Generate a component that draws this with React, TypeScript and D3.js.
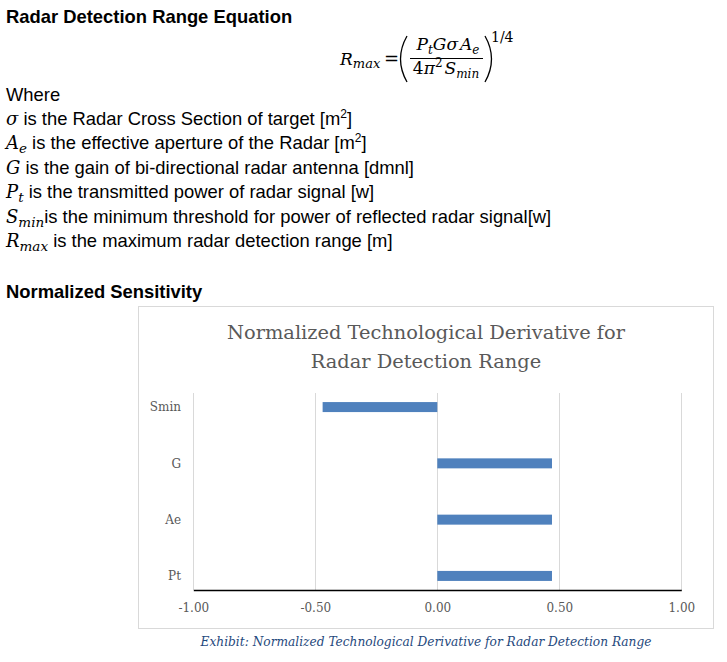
import React, { useRef, useEffect } from 'react';
import * as d3 from 'd3';

const categories = ['Pt', 'Ae', 'G', 'Smin'];
const derivatives = [0.47, 0.47, 0.47, -0.47];
const xTicks = [-1, -0.5, 0, 0.5, 1];

const chartTitle = ['Normalized Technological Derivative for', 'Radar Detection Range'];
const caption = 'Exhibit: Normalized Technological Derivative for Radar Detection Range';

// text lines explaining the equation: [math symbol, subscript, rest]
const symbolLines: [string, string, string][] = [
  ['σ', '', ' is the Radar Cross Section of target [m'],
  ['A', 'e', ' is the effective aperture of the Radar [m'],
  ['G', '', ' is the gain of bi-directional radar antenna [dmnl]'],
  ['P', 't', ' is the transmitted power of radar signal [w]'],
  ['S', 'min', 'is the minimum threshold for power of reflected radar signal[w]'],
  ['R', 'max', ' is the maximum radar detection range [m]'],
];

const SANS = 'Liberation Sans, Arial, sans-serif';
const SERIF = 'DejaVu Serif, serif';
const MATH = 'DejaVu Serif, serif';

const App: React.FC = () => {
  const ref = useRef<SVGSVGElement>(null);

  useEffect(() => {
    if (!ref.current) return;
    const svg = d3.select(ref.current);
    svg.selectAll('*').remove();

    // ---- header text ----
    svg.append('text')
      .attr('x', 6).attr('y', 23)
      .style('font-family', SANS).style('font-size', '18.4px').style('font-weight', 'bold')
      .text('Radar Detection Range Equation');

    // formula
    const f = svg.append('g').style('font-family', MATH).style('font-style', 'italic').style('font-size', '17px');
    const rm = f.append('text').attr('x', 340).attr('y', 65);
    rm.append('tspan').text('R');
    rm.append('tspan').attr('dy', 3).style('font-size', '13px').text('max');
    f.append('text').attr('x', 384).attr('y', 65).style('font-style', 'normal').style('font-size', '18px').text('=');
    const num = f.append('text').attr('x', 448).attr('y', 50).attr('text-anchor', 'middle');
    num.append('tspan').text('P');
    num.append('tspan').attr('dy', 4).style('font-size', '12px').text('t');
    num.append('tspan').attr('dy', -4).text('Gσ');
    num.append('tspan').attr('dx', 2).text('A');
    num.append('tspan').attr('dy', 4).style('font-size', '12px').text('e');
    const den = f.append('text').attr('x', 446).attr('y', 74).attr('text-anchor', 'middle');
    den.append('tspan').style('font-style', 'normal').text('4');
    den.append('tspan').text('π');
    den.append('tspan').attr('dy', -7).style('font-size', '12px').style('font-style', 'normal').text('2');
    den.append('tspan').attr('dy', 7).attr('dx', 2).text('S');
    den.append('tspan').attr('dy', 4).style('font-size', '12px').text('min');
    f.append('line').attr('x1', 410).attr('x2', 483).attr('y1', 58.5).attr('y2', 58.5)
      .attr('stroke', '#000').attr('stroke-width', 1);
    f.append('path').attr('d', 'M407,36 Q394,59 407,82').attr('fill', 'none').attr('stroke', '#000').attr('stroke-width', 1.3);
    f.append('path').attr('d', 'M485,36 Q498,59 485,82').attr('fill', 'none').attr('stroke', '#000').attr('stroke-width', 1.3);
    f.append('text').attr('x', 491).attr('y', 42).style('font-style', 'normal').style('font-size', '14px').text('1/4');

    const body = svg.append('g').style('font-family', SANS).style('font-size', '18.4px');
    body.append('text').attr('x', 6).attr('y', 101).text('Where');
    symbolLines.forEach(([sym, sub, rest], i) => {
      const t = body.append('text').attr('x', 6).attr('y', 125 + i * 24.4);
      t.append('tspan').style('font-family', MATH).style('font-style', 'italic').style('font-size', '18px').text(sym);
      if (sub) {
        t.append('tspan').attr('dy', 4).style('font-family', MATH).style('font-style', 'italic').style('font-size', '13.5px').text(sub);
        t.append('tspan').attr('dy', -4).text(rest);
      } else {
        t.append('tspan').text(rest);
      }
      if (i < 2) {
        t.append('tspan').attr('dy', -7).style('font-size', '12px').text('2');
        t.append('tspan').attr('dy', 7).text(']');
      }
    });
    body.append('text').attr('x', 6).attr('y', 298).style('font-weight', 'bold').text('Normalized Sensitivity');

    // ---- chart box ----
    svg.append('rect')
      .attr('x', 138.5).attr('y', 306.5).attr('width', 575).attr('height', 322)
      .attr('fill', '#fff').attr('stroke', '#d9d9d9');

    chartTitle.forEach((line, i) => {
      svg.append('text')
        .attr('x', 426).attr('y', 339 + i * 29)
        .attr('text-anchor', 'middle')
        .style('font-family', SERIF).style('font-size', '19.4px').style('fill', '#595959')
        .text(line);
    });

    const x = d3.scaleLinear().domain([-1, 1]).range([193.3, 681.3]);
    const y = d3.scalePoint<string>().domain([...categories].reverse()).range([393, 590]).padding(0.25);
    const barH = 10;

    // gridlines
    svg.append('g').selectAll('line').data(xTicks).enter().append('line')
      .attr('x1', d => Math.round(x(d)) + 0.5).attr('x2', d => Math.round(x(d)) + 0.5)
      .attr('y1', 393).attr('y2', 590)
      .attr('stroke', '#d9d9d9').attr('stroke-width', 1);

    // bars
    svg.append('g').selectAll('rect').data(categories).enter().append('rect')
      .attr('x', (_, i) => x(Math.min(0, derivatives[i])))
      .attr('width', (_, i) => Math.abs(x(derivatives[i]) - x(0)))
      .attr('y', d => (y(d) || 0) - barH / 2)
      .attr('height', barH)
      .attr('fill', '#4f81bd');

    // x axis
    const xAxis = svg.append('g').attr('transform', 'translate(0,590)')
      .call(d3.axisBottom(x).tickValues(xTicks).tickSize(0).tickPadding(13)
        .tickFormat(d => d3.format('.2f')(d as number).replace('−', '-')));
    xAxis.select('.domain').attr('stroke', '#000').attr('stroke-width', 1.5);
    xAxis.selectAll('text')
      .style('font-family', SERIF).style('font-size', '12px').style('fill', '#595959');

    // category labels
    const yAxis = svg.append('g').attr('transform', 'translate(193,0)')
      .call(d3.axisLeft(y).tickSize(0).tickPadding(12));
    yAxis.select('.domain').remove();
    yAxis.selectAll('text')
      .style('font-family', SERIF).style('font-size', '12px').style('fill', '#595959');

    // caption
    svg.append('text')
      .attr('x', 426).attr('y', 646).attr('text-anchor', 'middle')
      .style('font-family', SERIF).style('font-style', 'italic').style('font-size', '12.2px').style('fill', '#1f497d')
      .text(caption);
  }, []);

  return (
    <svg ref={ref} width={727} height={662}
      style={{ position: 'absolute', left: 0, top: 0, background: '#fff' }} />
  );
};

export default App;
